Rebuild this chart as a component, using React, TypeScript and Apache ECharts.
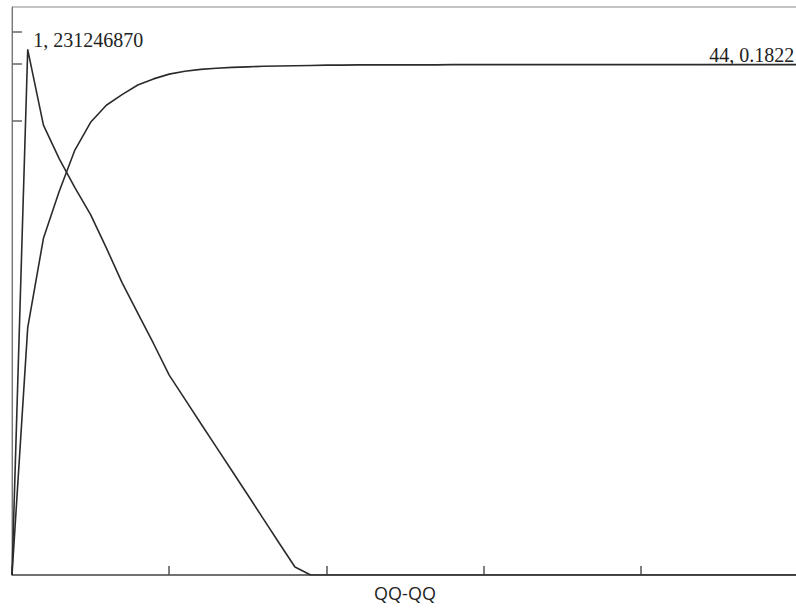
import React, { useEffect, useRef } from "react";
import * as echarts from "echarts";

// x positions (integer steps)
const xSteps: number[] = [
  0, 1, 2, 3, 4, 5, 6, 7, 8, 9, 10, 11, 12, 13, 14, 15, 16, 17, 18, 19, 20,
  21, 22, 23, 24, 25, 26, 27, 28, 29, 30, 31, 32, 33, 34, 35, 36, 37, 38, 39,
  40, 41, 42, 43, 44, 45, 46, 47, 48, 49, 50,
];

// peaked series (right-hand scale, hidden)
const peakSeries: number[] = [
  0, 231246870, 198000000, 183300000, 170500000, 158600000, 144000000,
  128700000, 115300000, 101900000, 88000000, 77400000, 66800000, 56300000,
  45800000, 35200000, 24600000, 14000000, 3500000, 0, 0, 0, 0, 0, 0, 0, 0, 0,
  0, 0, 0, 0, 0, 0, 0, 0, 0, 0, 0, 0, 0, 0, 0, 0, 0, 0, 0, 0, 0, 0, 0,
];

// cumulative series (saturating)
const cumulativeSeries: number[] = [
  0, 0.0883, 0.1202, 0.1369, 0.1517, 0.1616, 0.1677, 0.1715, 0.1749, 0.1771,
  0.1788, 0.1798, 0.1805, 0.1809, 0.1812, 0.1814, 0.1816, 0.1817, 0.1818,
  0.1819, 0.182, 0.182, 0.1821, 0.1821, 0.1821, 0.1821, 0.1821, 0.1821,
  0.1822, 0.1822, 0.1822, 0.1822, 0.1822, 0.1822, 0.1822, 0.1822, 0.1822,
  0.1822, 0.1822, 0.1822, 0.1822, 0.1822, 0.1822, 0.1822, 0.1822, 0.1822,
  0.1822, 0.1822, 0.1822, 0.1822, 0.1822,
];

const peakLabelIndex = 1;
const cumulativeLabelIndex = 44;
const leftTickValues: number[] = [200000000, 225000000, 239000000];
const xAxisName = "QQ-QQ";

const lineColor = "#2b2b2b";

const labelStyle = {
  show: true,
  position: "right" as const,
  distance: 5,
  offset: [0, -10],
  fontFamily: "Liberation Serif",
  fontSize: 20,
  color: "#222",
  formatter: (p: any) => `${p.value[0]}, ${p.value[1]}`,
};

function buildData(values: number[], labelIndex: number) {
  return xSteps.map((x, i) =>
    i === labelIndex
      ? { value: [x, values[i]], symbol: "circle", symbolSize: 1, label: labelStyle }
      : { value: [x, values[i]], symbol: "none" }
  );
}

export default function App() {
  const ref = useRef<HTMLDivElement>(null);

  useEffect(() => {
    if (!ref.current) return;
    const chart = echarts.init(ref.current, undefined, { renderer: "svg" });
    chart.setOption({
      animation: false,
      backgroundColor: "#ffffff",
      grid: {
        left: 12,
        right: 2,
        top: 7,
        bottom: 33,
        containLabel: false,
        outerBoundsMode: "none",
        show: true,
        borderColor: "#8a8a8a",
        borderWidth: 1,
        backgroundColor: "transparent",
      },
      xAxis: {
        type: "value",
        min: 0,
        max: 50,
        interval: 10,
        name: xAxisName,
        nameLocation: "middle",
        nameGap: 9,
        nameTextStyle: {
          fontFamily: "Open Sans",
          fontSize: 18,
          color: "#222",
        },
        axisLine: { show: true, lineStyle: { color: "#555", width: 1.5 } },
        axisTick: { show: true, inside: true, length: 9, lineStyle: { color: "#555", width: 1.5 } },
        axisLabel: { show: false },
        splitLine: { show: false },
      },
      yAxis: [
        {
          type: "value",
          min: 0,
          max: 250000000,
          axisLine: { show: true, lineStyle: { color: "#777", width: 1 } },
          axisTick: {
            show: true,
            inside: true,
            length: 10,
            customValues: leftTickValues,
            lineStyle: { color: "#666", width: 1.5 },
          },
          axisLabel: { show: false },
          splitLine: { show: false },
        },
        {
          type: "value",
          min: 0,
          max: 0.20276,
          show: false,
          splitLine: { show: false },
        },
      ],
      series: [
        {
          type: "line",
          yAxisIndex: 0,
          data: buildData(peakSeries, peakLabelIndex),
          showSymbol: true,
          lineStyle: { color: lineColor, width: 1.6 },
          itemStyle: { color: lineColor },
          z: 3,
        },
        {
          type: "line",
          yAxisIndex: 1,
          data: buildData(cumulativeSeries, cumulativeLabelIndex),
          showSymbol: true,
          lineStyle: { color: lineColor, width: 1.6 },
          itemStyle: { color: lineColor },
          z: 3,
        },
      ],
    });
    return () => chart.dispose();
  }, []);

  return (
    <div
      style={{
        position: "absolute",
        left: 0,
        top: 0,
        width: 796,
        height: 608,
        overflow: "hidden",
        background: "#fff",
      }}
    >
      <div ref={ref} style={{ width: 800, height: 608 }} />
    </div>
  );
}
